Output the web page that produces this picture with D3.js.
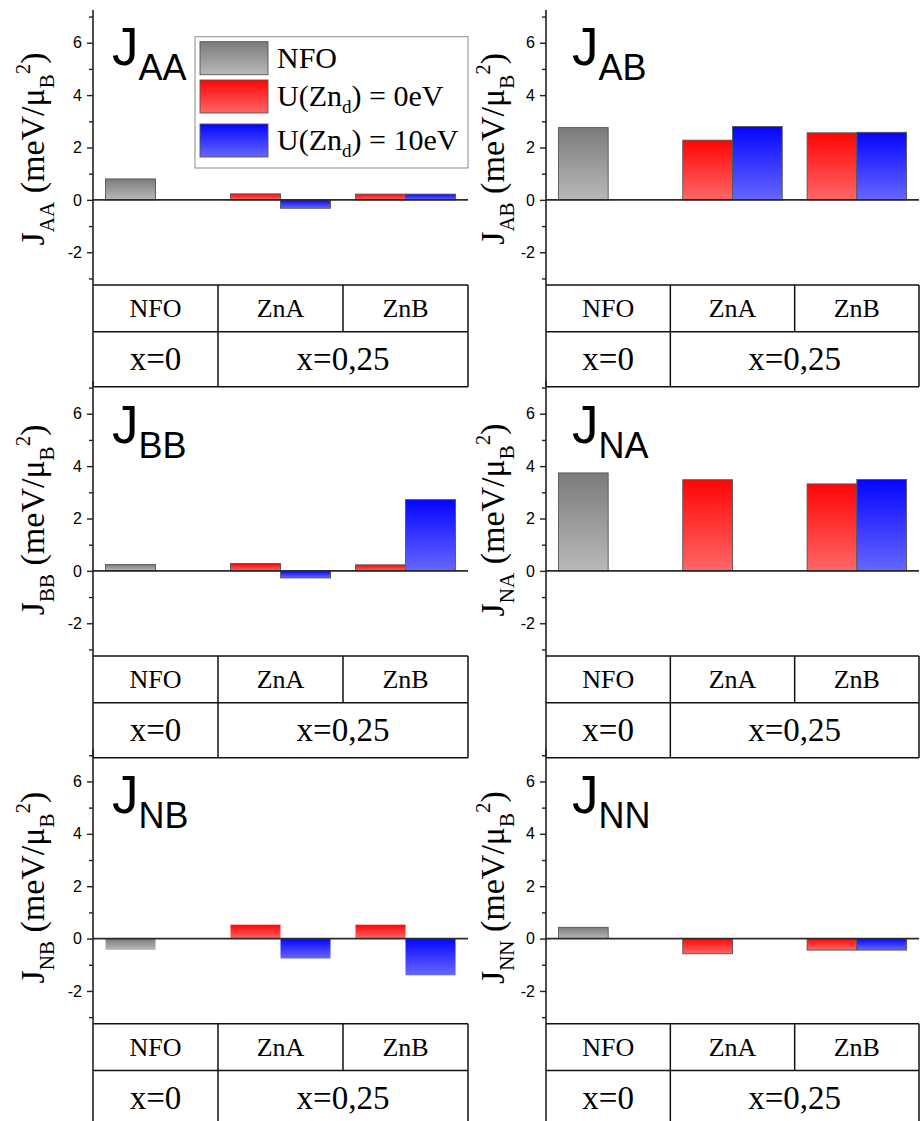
<!DOCTYPE html>
<html>
<head>
<meta charset="utf-8">
<script src="https://cdn.jsdelivr.net/npm/d3@7"></script>
<style>
  body { margin: 0; background: #fff; }
  svg { display: block; }
  text { white-space: pre; }
</style>
</head>
<body>
<svg id="chart" width="920" height="1121"></svg>
<script>
// Exchange constants J (meV/μB²) for pristine NFO and Zn-doped (x=0,25) structures
const panelKeys = ["AA", "AB", "BB", "NA", "NB", "NN"];
const categories = ["NFO", "ZnA", "ZnB"];
const compositions = ["x=0", "x=0,25"];

// one value per panel, NFO bar
const nfoValues = [0.80, 2.76, 0.24, 3.74, -0.43, 0.43];
// per panel: [ZnA, ZnB], U(Zn_d) = 0 eV
const u0Values = [[0.23, 0.22], [2.28, 2.56], [0.28, 0.23], [3.48, 3.32], [0.53, 0.53], [-0.58, -0.44]];
// per panel: [ZnA, ZnB], U(Zn_d) = 10 eV (null = not computed)
const u10Values = [[-0.32, 0.22], [2.80, 2.58], [-0.27, 2.72], [null, 3.49], [-0.76, -1.40], [null, -0.44]];

const majorTicks = [-2, 0, 2, 4, 6];
const minorTicks = [-3, -1, 1, 3, 5, 7];
const yDomain = [-3.25, 7.25];

const seriesKeys = ["nfo", "u0", "u10"];
const legendLabels = [
  [{ t: "NFO" }],
  [{ t: "U(Zn" }, { t: "d", sub: true }, { t: ") = 0eV" }],
  [{ t: "U(Zn" }, { t: "d", sub: true }, { t: ") = 10eV" }]
];

// ---- layout ----
const colAxisX = [93, 546];
const colRightX = [468, 919];
const rowTopY = [10, 381, 748.7];
const plotH = 275;
const tableRow1 = 46.7;
const tableRow2 = 55;
const titleBaseline = [55, 62, 64.3];
const titleDx = [19, 26];
const yLabelDx = [-49.5, -42];

const SERIF = "'Liberation Serif', 'Times New Roman', serif";
const SANS = "'Liberation Sans', Arial, sans-serif";

const svg = d3.select("#chart");
const defs = svg.append("defs");

const gradientStops = {
  nfo: ["#7b7b7b", "#b9b9b9"],
  u0: ["#ff0505", "#ff6767"],
  u10: ["#0505ff", "#6767ff"]
};
seriesKeys.forEach(k => {
  const lg = defs.append("linearGradient").attr("id", "grad-" + k)
    .attr("x1", 0).attr("y1", 0).attr("x2", 0).attr("y2", 1);
  lg.append("stop").attr("offset", "0%").attr("stop-color", gradientStops[k][0]);
  lg.append("stop").attr("offset", "100%").attr("stop-color", gradientStops[k][1]);
});

// append tspans with sub/superscripts; shifts are in px relative to the baseline
function richText(textSel, parts, size, subSize, subShift, supShift) {
  let cur = 0;
  parts.forEach(p => {
    const target = p.sub ? subShift : p.sup ? supShift : 0;
    textSel.append("tspan")
      .attr("dy", target - cur)
      .attr("font-size", (p.sub || p.sup) ? subSize : size)
      .text(p.t);
    cur = target;
  });
}

panelKeys.forEach((key, i) => {
  const col = i % 2, row = Math.floor(i / 2);
  const x0 = colAxisX[col], x1 = colRightX[col];
  const top = rowTopY[row], bottom = top + plotH;
  const g = svg.append("g");

  const y = d3.scaleLinear().domain(yDomain).range([bottom, top]);
  const xCat = d3.scaleBand().domain(categories).range([x0, x1]);
  const xSlot = d3.scaleBand().domain([0, 1]).range([0, xCat.bandwidth()])
    .paddingInner(0).paddingOuter(0.25);

  const bars = [
    { cat: "NFO", slot: 0, v: nfoValues[i], s: "nfo" },
    { cat: "ZnA", slot: 0, v: u0Values[i][0], s: "u0" },
    { cat: "ZnA", slot: 1, v: u10Values[i][0], s: "u10" },
    { cat: "ZnB", slot: 0, v: u0Values[i][1], s: "u0" },
    { cat: "ZnB", slot: 1, v: u10Values[i][1], s: "u10" }
  ].filter(b => b.v !== null);

  const outlined = key !== "NB";
  g.selectAll("rect.bar").data(bars).join("rect")
    .attr("class", "bar")
    .attr("x", d => xCat(d.cat) + xSlot(d.slot))
    .attr("width", xSlot.bandwidth())
    .attr("y", d => y(Math.max(0, d.v)))
    .attr("height", d => Math.abs(y(d.v) - y(0)))
    .attr("fill", d => "url(#grad-" + d.s + ")")
    .attr("stroke", outlined ? "#555" : "none")
    .attr("stroke-width", 0.9);

  // zero line
  g.append("line")
    .attr("x1", x0).attr("x2", x1)
    .attr("y1", y(0)).attr("y2", y(0))
    .attr("stroke", "#2a2a2a").attr("stroke-width", 1.8);

  // axes
  const major = g.append("g").attr("transform", `translate(${x0},0)`)
    .call(d3.axisLeft(y).tickValues(majorTicks).tickSize(6).tickPadding(5)
      .tickFormat(d => String(d)));
  const minor = g.append("g").attr("transform", `translate(${x0},0)`)
    .call(d3.axisLeft(y).tickValues(minorTicks).tickSize(4).tickFormat(""));
  [major, minor].forEach(a => {
    a.select(".domain").remove();
    a.selectAll(".tick line").attr("stroke", "#222").attr("stroke-width", 1.4);
  });
  major.selectAll(".tick text")
    .style("font-family", SANS).style("font-size", "16px").attr("fill", "#000");

  // table under the plot
  const tTop = bottom, tMid = bottom + tableRow1, tBot = tMid + tableRow2;
  const lineStyle = s => s.attr("stroke", "#111").attr("stroke-width", 1.5);
  [tTop, tMid, tBot].forEach(yy => {
    g.append("line").attr("x1", x0).attr("x2", x1).attr("y1", yy).attr("y2", yy).call(lineStyle);
  });
  g.append("line").attr("x1", x1).attr("x2", x1).attr("y1", tTop).attr("y2", tBot).call(lineStyle);
  categories.slice(1).forEach((c, k) => {
    const xx = xCat(c);
    g.append("line").attr("x1", xx).attr("x2", xx)
      .attr("y1", tTop).attr("y2", k === 0 ? tBot : tMid).call(lineStyle);
  });
  // y axis line runs through plot and table
  g.append("line").attr("x1", x0).attr("x2", x0).attr("y1", top).attr("y2", tBot)
    .attr("stroke", "#222").attr("stroke-width", 1.6);

  categories.forEach(c => {
    g.append("text")
      .attr("x", xCat(c) + xCat.bandwidth() / 2)
      .attr("y", tTop + tableRow1 / 2 + 26 * 0.33)
      .attr("text-anchor", "middle")
      .attr("font-family", SERIF).attr("font-size", 26)
      .text(c);
  });
  const compCenters = [
    xCat("NFO") + xCat.bandwidth() / 2,
    (xCat("ZnA") + x1) / 2
  ];
  compositions.forEach((c, k) => {
    g.append("text")
      .attr("x", compCenters[k])
      .attr("y", tMid + tableRow2 / 2 + 33 * 0.34)
      .attr("text-anchor", "middle")
      .attr("font-family", SERIF).attr("font-size", 33)
      .text(c);
  });

  // panel title
  const title = g.append("text")
    .attr("x", x0 + titleDx[col]).attr("y", top + titleBaseline[row])
    .attr("font-family", SANS).attr("fill", "#000");
  richText(title, [{ t: "J" }, { t: key, sub: true }], 53, 36, 15, 0);

  // y axis label
  const yl = g.append("text")
    .attr("transform", `translate(${x0 + yLabelDx[col]},${y(0) - 51}) rotate(-90)`)
    .attr("text-anchor", "middle")
    .attr("font-family", SERIF).attr("fill", "#000");
  richText(yl, [
    { t: "J" }, { t: key, sub: true }, { t: " (meV/μ" },
    { t: "B", sub: true }, { t: "2", sup: true }, { t: ")" }
  ], 34, 21, 10, -14);

  // legend (first panel only)
  if (i === 0) {
    const lx = 195, ly = 36.7, lw = 273, lh = 131.3;
    const lg = g.append("g");
    lg.append("rect").attr("x", lx).attr("y", ly).attr("width", lw).attr("height", lh)
      .attr("fill", "#fff").attr("stroke", "#8a8a8a").attr("stroke-width", 1);
    const rowY = [41.7, 80, 124];
    seriesKeys.forEach((k, j) => {
      lg.append("rect").attr("x", 200).attr("y", rowY[j]).attr("width", 68).attr("height", 33)
        .attr("fill", "url(#grad-" + k + ")").attr("stroke", "#555").attr("stroke-width", 0.9);
      const t = lg.append("text").attr("x", 277).attr("y", rowY[j] + 16.5 + 30 * 0.33)
        .attr("font-family", SERIF).attr("fill", "#000");
      richText(t, legendLabels[j], 30, 19, 7, 0);
    });
  }
});
</script>
</body>
</html>
